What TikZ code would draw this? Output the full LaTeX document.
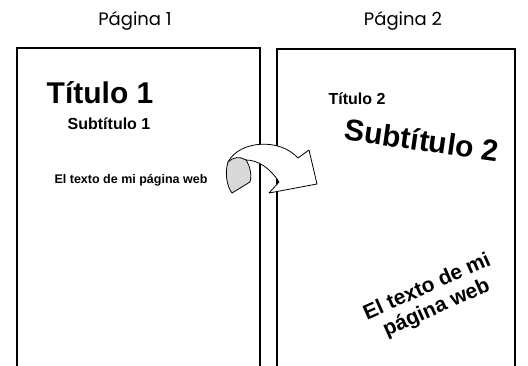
\documentclass[tikz,border=0pt]{standalone}
\usepackage{fontspec}
\setmainfont{Liberation Sans}
\newfontfamily\handfont{Poppins}
\usetikzlibrary{positioning}

\begin{document}
\begin{tikzpicture}[x=1pt,y=-1pt]
            \tikzset{every node/.style={inner sep=0pt, font=\bfseries},
                    pagebox/.style={draw=black, line width=2.6pt},
                    pagelabel/.style={font=\handfont\fontsize{18}{18}\selectfont}}
            \useasboundingbox (0,0) rectangle (528,365);
            % the two pages, open at the bottom
            \draw[pagebox] (17,370) -- (17,48) -- (260,48) -- (260,370);
            \draw[pagebox] (277,370) -- (277,49) -- (515,49) -- (515,370);
            \node[pagelabel] (p1) at (135,21) {Página 1};
            \node[pagelabel] (p2) at (403,21) {Página 2};
            % page 1
            \node[font=\bfseries\fontsize{30}{30}\selectfont] (t1) at (100,93) {Título 1};
            \node[font=\bfseries\fontsize{16}{16}\selectfont] (s1) at (109,124) {Subtítulo 1};
            \node[font=\bfseries\fontsize{12.5}{12.5}\selectfont] (x1) at (131,180) {El texto de mi página web};
            % page 2
            \node[font=\bfseries\fontsize{16}{16}\selectfont] (t2) at (357,99) {Título 2};
            \node[font=\bfseries\fontsize{30}{30}\selectfont, rotate=-8] (s2) at (422,140) {Subtítulo 2};
            \node[font=\bfseries\fontsize{21}{23}\selectfont, rotate=24, align=center] (x2) at (432,298) {El texto de mi\\página web};
            % turning arrow
            \draw[fill=white, line width=0.8pt, line join=round]
                (228,162) .. controls (240,140) and (280,138) .. (298,158)
                -- (309,150) -- (317,184) -- (269,193) -- (279,182)
                .. controls (270,168) and (258,160) .. (246,160) -- cycle;
            \draw[fill=black!15, line width=0.8pt, line join=round]
                (228,162) .. controls (224,175) and (228,188) .. (232,193)
                -- (250,182) .. controls (252,175) and (250,166) .. (246,160)
                .. controls (240,156) and (233,157) .. (228,162) -- cycle;
\end{tikzpicture}
\end{document}
